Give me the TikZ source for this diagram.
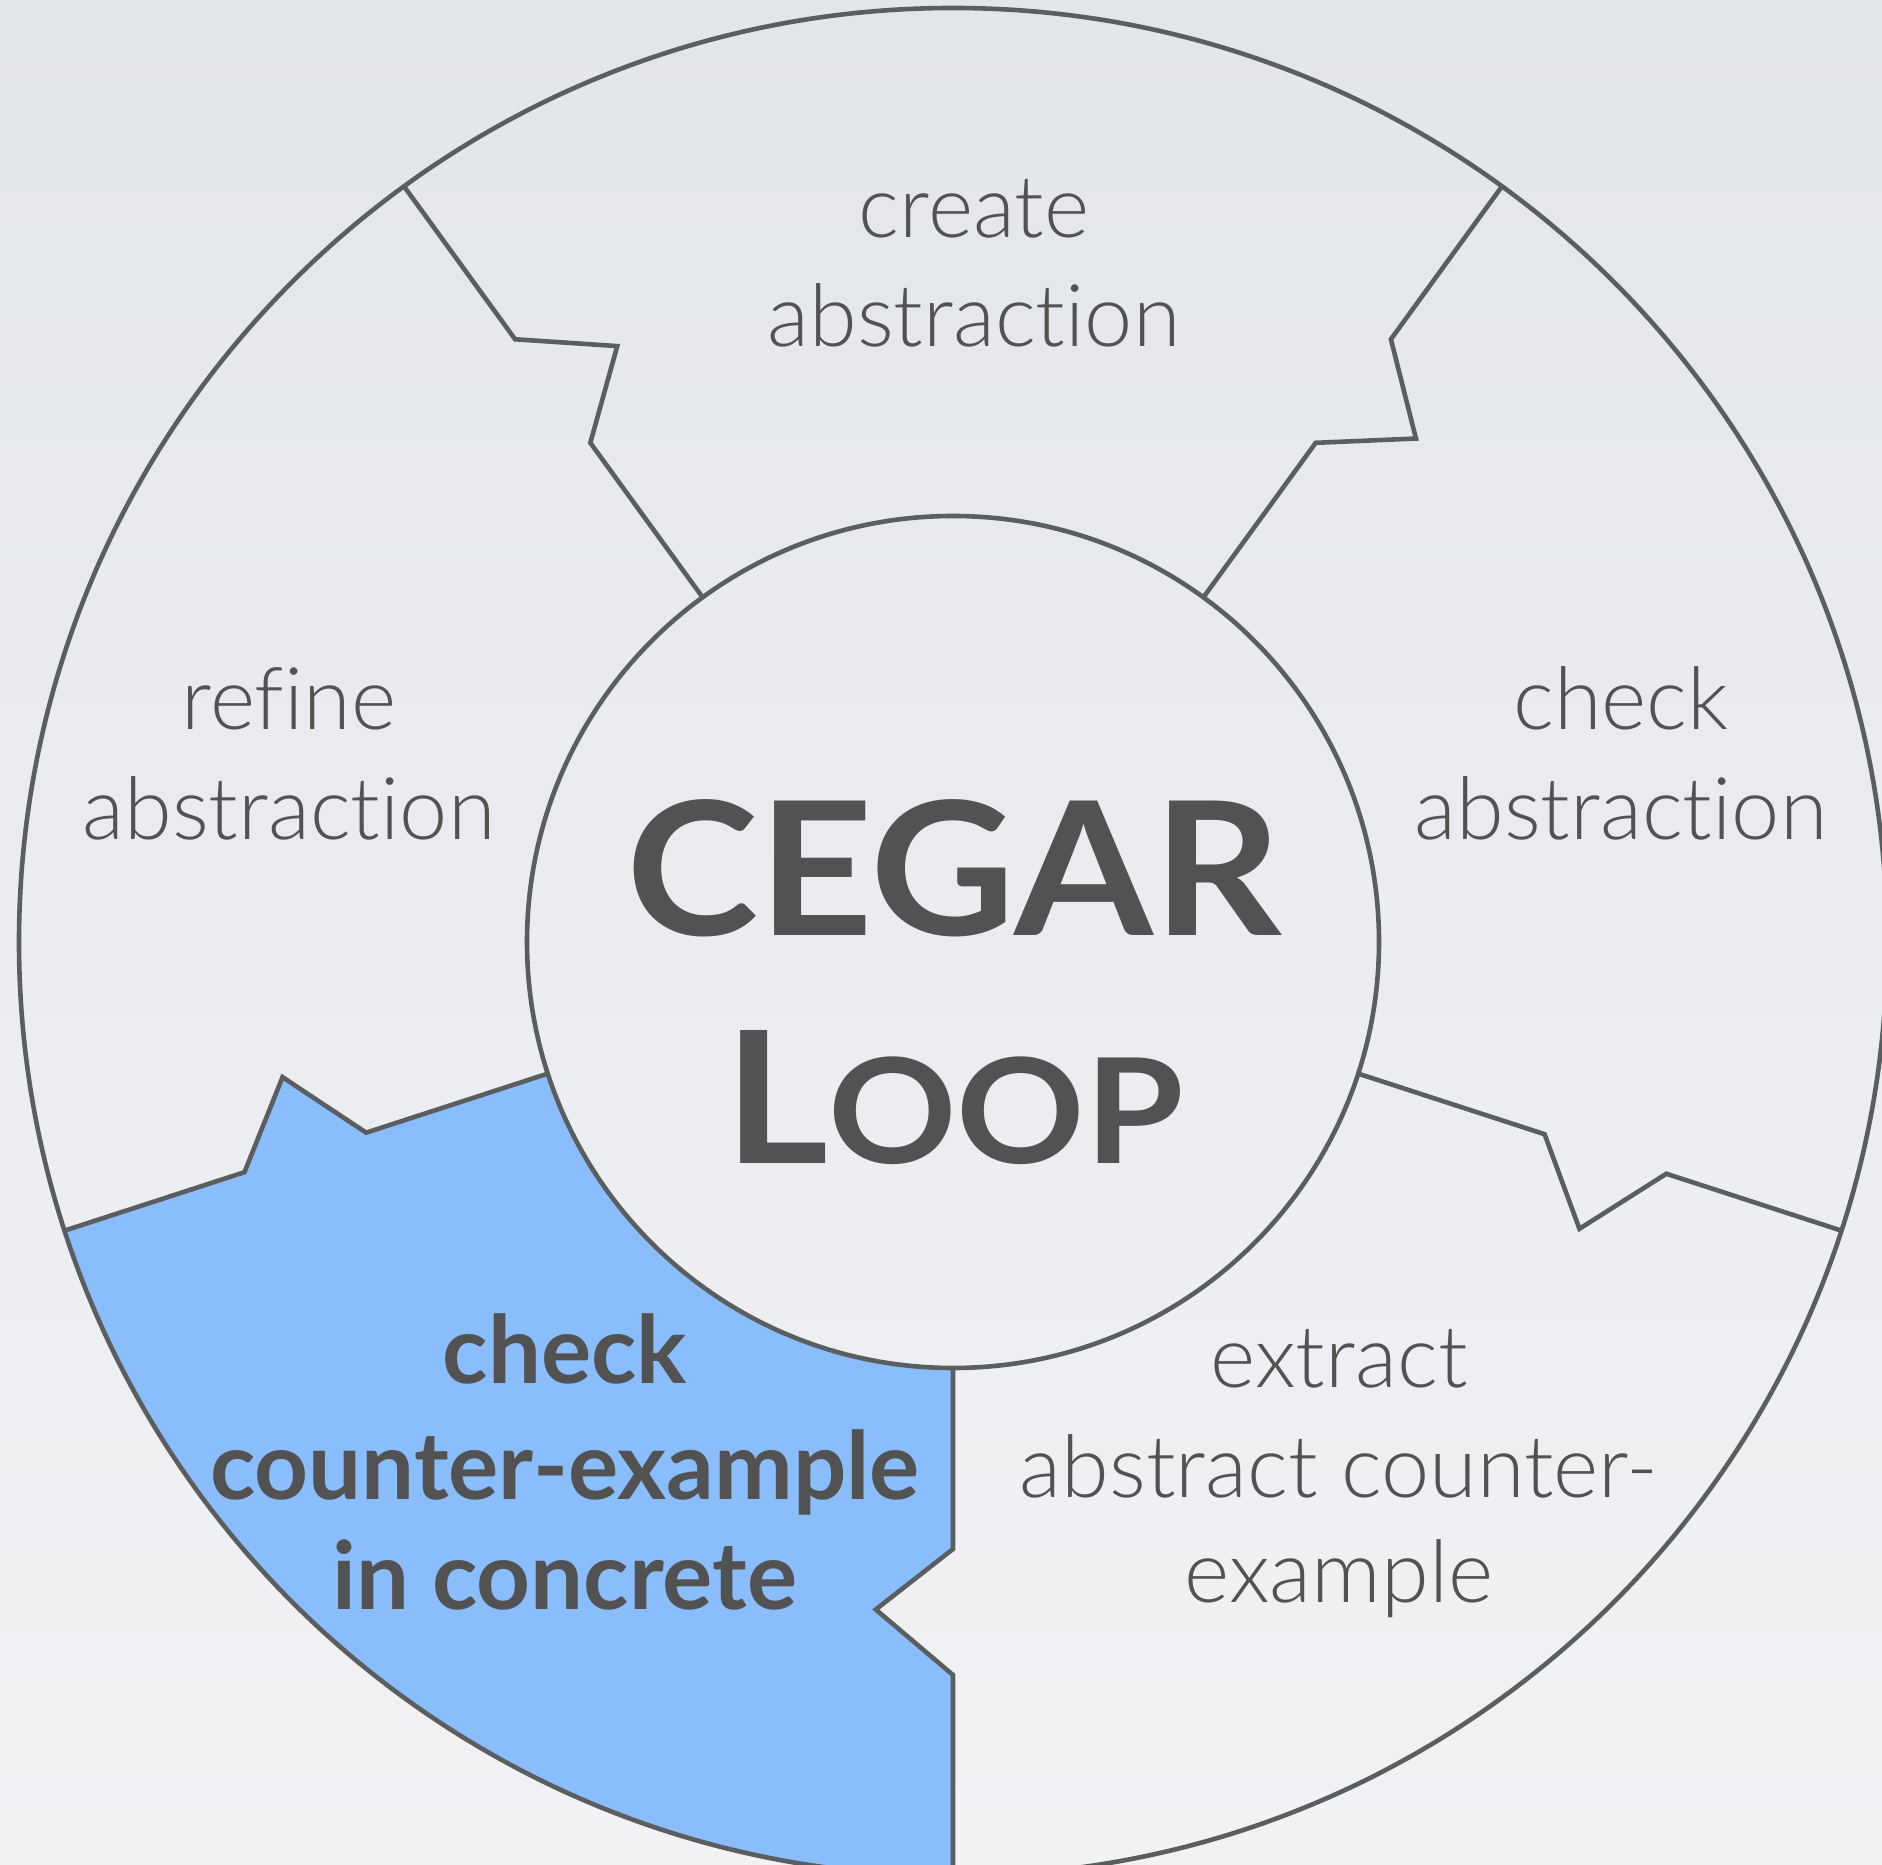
\documentclass[tikz,border=0pt]{standalone}
\usepackage{fontspec}
\usepackage{graphicx}
\setmainfont{Lato}[Ligatures=NoCommon]
\newfontfamily\thinfont{Lato Light}[Ligatures=NoCommon]
\usetikzlibrary{calc}

\definecolor{ink}{HTML}{525252}
\definecolor{rule}{HTML}{5A5E5E}
\definecolor{stepblue}{HTML}{89BDFB}
\definecolor{bgtop}{HTML}{E3E6E9}
\definecolor{bgbot}{HTML}{F2F2F5}

\begin{document}
\begin{tikzpicture}[x=1pt,y=1pt,
  wheel/.style={draw=rule, line width=4.6pt, line join=miter},
  ring/.style={circle, inner sep=0pt, outer sep=0pt},
  thin label/.style={anchor=base, text=ink, inner sep=0pt,
    font=\thinfont\fontsize{86.5}{98}\selectfont},
  bold label/.style={anchor=base, text=ink, inner sep=0pt,
    font=\bfseries\fontsize{94}{110}\selectfont},
  title label/.style={anchor=base, text=ink, inner sep=0pt, font=\bfseries}
]
\useasboundingbox (0,0) rectangle (1882,1864);
\shade[top color=bgtop, bottom color=bgbot] (0,0) rectangle (1882,1864);
\clip (0,0) rectangle (1882,1864);

% wheel geometry: outer rim and central hub
\coordinate (C) at (953,922);
\node[ring, minimum size=1868pt] (rim) at (C) {};
\node[ring, minimum size=852pt] (core) at (C) {};

% zig-zag break points of the five spokes (angle / inner, notch, outer radius)
\foreach \nm/\a/\ri/\rn/\ro in {tl/126/617/684/745, tr/54/617/684/745,
    rl/342/622/689/750, ll/198/617/684/745, bt/270/607/672/733} {
  \coordinate (\nm-o) at ($(C)+(\a:\ro pt)$);
  \coordinate (\nm-n) at ($(C)+({\a-6.6}:\rn pt)$);
  \coordinate (\nm-i) at ($(C)+(\a:\ri pt)$);
}

% highlighted sector
\fill[stepblue] (rim.198) -- (ll-o) -- (ll-n) -- (ll-i) -- (core.198)
  arc[start angle=198, end angle=270, radius=426pt]
  -- (bt-i) -- (bt-n) -- (bt-o) -- (rim.270)
  arc[start angle=270, end angle=198, radius=934pt] -- cycle;

% rings
\draw[wheel] (C) circle[radius=934pt];
\draw[wheel] (C) circle[radius=426pt];

% spokes
\foreach \nm/\a in {tl/126, tr/54, rl/342, ll/198, bt/270}
  \draw[wheel] (rim.\a) -- (\nm-o) -- (\nm-n) -- (\nm-i) -- (core.\a);

% step labels
\node[thin label] (create1) at (974,1626) {create};
\node[thin label] (create2) at (974,1517) {abstraction};
\node[thin label] (refine1) at (289,1134) {refine};
\node[thin label] (refine2) at (289,1024) {abstraction};
\node[thin label] (checka1) at (1621,1134) {check};
\node[thin label] (checka2) at (1621,1024) {abstraction};
\node[thin label] (extract1) at (1339,476) {extract};
\node[thin label] (extract2) at (1339,366) {abstract counter-};
\node[thin label] (extract3) at (1339,261) {example};
\node[bold label] (checkc1) at (565,480) {check};
\node[bold label] (checkc2) at (565,364) {counter-example};
\node[bold label] (checkc3) at (565,254) {in concrete};

% title in the hub
\node[title label] (cegar) at (954,928)
  {\scalebox{1.075}[1]{\fontsize{186}{186}\selectfont CEGAR}};
\node[title label] (loop) at (954,700)
  {\scalebox{1.09}[1]{\fontsize{184}{184}\selectfont L\fontsize{146}{146}\selectfont OOP}};
\end{tikzpicture}
\end{document}
